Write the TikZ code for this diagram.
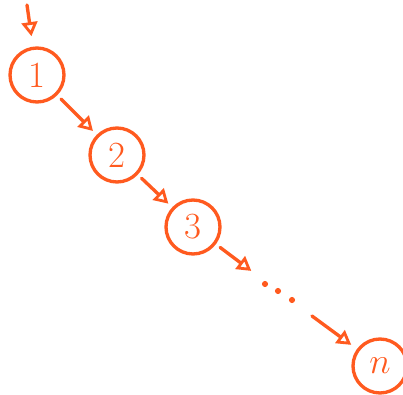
\documentclass[tikz,border=0pt]{standalone}
\usepackage{tikz}
\usetikzlibrary{arrows.meta}
\definecolor{Ink}{HTML}{FF5A1F}

\begin{document}
\begin{tikzpicture}[
  x=0.02cm,y=-0.02cm,
  state/.style={circle,draw=Ink,line width=1.9pt,minimum size=1.08cm,inner sep=0pt,text=Ink,font=\fontsize{21}{25}\selectfont},
  edge/.style={draw=Ink,line width=1.9pt,line cap=round,-{Triangle[open,length=8pt,width=9pt,line width=1.6pt]}},
  dot/.style={circle,fill=Ink,inner sep=0pt,minimum size=3.5pt}
]
\useasboundingbox (0,0) rectangle (403,395);
\coordinate (start) at (27,5);
\node[state] (n1) at (37,75) {1};
\node[state] (n2) at (117,155) {2};
\node[state] (n3) at (193,227) {3};
\coordinate (dots) at (278,291);
\node[dot] (d1) at (265,284) {};
\node[dot] (d2) at (278,291) {};
\node[dot] (d3) at (292,300) {};
\node[state] (nn) at (380,366) {$n$};
\draw[edge,shorten >=6pt] (start) -- (n1);
\draw[edge,shorten <=3pt,shorten >=3pt] (n1) -- (n2);
\draw[edge,shorten <=3pt,shorten >=3pt] (n2) -- (n3);
\draw[edge,shorten <=3pt,shorten >=19pt] (n3) -- (dots);
\draw[edge,shorten <=24pt,shorten >=4pt] (dots) -- (nn);
\end{tikzpicture}
\end{document}
